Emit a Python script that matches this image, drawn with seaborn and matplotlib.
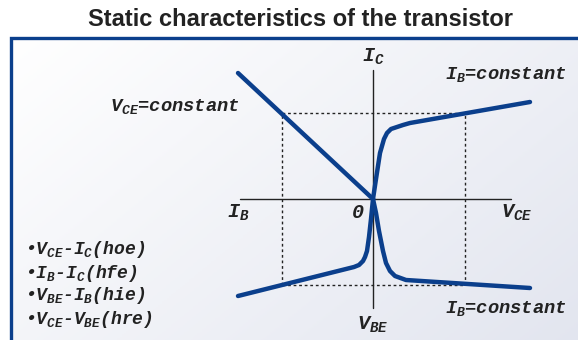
import numpy as np
import matplotlib
matplotlib.use("Agg")
import matplotlib.pyplot as plt
import seaborn as sns

sns.set_style("white")
plt.rcParams['mathtext.fontset'] = 'custom'
plt.rcParams['mathtext.it'] = 'Liberation Mono:italic:bold'
plt.rcParams['mathtext.rm'] = 'Liberation Mono:italic:bold'

# schematic curves (arbitrary units, origin at 0,0)
# hfe: IB - IC  (second quadrant)
hfe_x = [-1.35, 0.0]
hfe_y = [1.26, 0.0]
# hoe: VCE - IC  (first quadrant)
hoe_x = [0.0, 0.03, 0.07, 0.11, 0.14, 0.18, 0.24, 0.30, 0.37, 1.57]
hoe_y = [0.0, 0.20, 0.46, 0.60, 0.66, 0.70, 0.72, 0.74, 0.76, 0.97]
# hie: VBE - IB  (third quadrant)
hie_x = [0.0, -0.02, -0.04, -0.06, -0.08, -0.10, -0.14, -0.19, -1.35]
hie_y = [0.0, -0.20, -0.38, -0.52, -0.58, -0.62, -0.66, -0.68, -0.97]
# hre: VCE - VBE  (fourth quadrant)
hre_x = [0.0, 0.03, 0.06, 0.10, 0.13, 0.17, 0.22, 0.33, 1.57]
hre_y = [0.0, -0.14, -0.32, -0.52, -0.64, -0.72, -0.77, -0.81, -0.89]

# operating point (dotted guides)
op_x = [-0.91, 0.92]
op_y = [-0.86, 0.86]

title = "Static characteristics of the transistor"
params = [r"•$V_{CE}$-$I_{C}$(hoe)", r"•$I_{B}$-$I_{C}$(hfe)",
          r"•$V_{BE}$-$I_{B}$(hie)", r"•$V_{CE}$-$V_{BE}$(hre)"]

blue = "#0b3f8c"
mono = dict(family="Liberation Mono", style="italic", weight="bold", color="#222222")

fig = plt.figure(figsize=(5.78, 3.40), dpi=100)
ax = fig.add_axes([0, 0, 1, 1])
ax.set_xlim(-3.73, 2.05)
ax.set_ylim(-1.41, 1.99)
ax.axis("off")

# background panel with soft gradient
grad = np.linspace(0, 1, 256)
gx, gy = np.meshgrid(grad, grad)
g = 0.6 * gx + 0.4 * (1 - gy)
ax.imshow(g, extent=[-3.63, 2.1, -1.5, 1.63], cmap=sns.blend_palette(["#ffffff", "#e2e5ef"], as_cmap=True),
          aspect="auto", zorder=0, origin="lower", vmin=0, vmax=1)
ax.plot([-3.615, -3.615, 2.1], [-1.5, 1.615, 1.615], color=blue, lw=2.4, zorder=1,
        solid_joinstyle="miter")

# axes of the chart
ax.plot([-1.33, 1.38], [0, 0], color="#222222", lw=1.0, zorder=2)
ax.plot([0, 0], [-1.09, 1.29], color="#222222", lw=1.0, zorder=2)

# dotted guides
dot = dict(color="#222222", lw=1.0, ls=(0, (2, 2)), zorder=2)
ax.plot([op_x[0], op_x[1]], [op_y[1], op_y[1]], **dot)
ax.plot([op_x[0], op_x[1]], [op_y[0], op_y[0]], **dot)
ax.plot([op_x[0], op_x[0]], [op_y[0], op_y[1]], **dot)
ax.plot([op_x[1], op_x[1]], [op_y[0], op_y[1]], **dot)

for xs, ys in [(hfe_x, hfe_y), (hoe_x, hoe_y), (hie_x, hie_y), (hre_x, hre_y)]:
    sns.lineplot(x=xs, y=ys, ax=ax, color=blue, lw=3.2, sort=False, estimator=None,
                 solid_capstyle="round", solid_joinstyle="round", zorder=3)

fs = 13.5
ax.text(0, 1.42, r"$I_{C}$", ha="center", va="center", fontsize=fs + 1, **mono)
ax.text(0, -1.26, r"$V_{BE}$", ha="center", va="center", fontsize=fs + 1, **mono)
ax.text(-1.35, -0.14, r"$I_{B}$", ha="center", va="center", fontsize=fs + 1, **mono)
ax.text(1.44, -0.14, r"$V_{CE}$", ha="center", va="center", fontsize=fs + 1, **mono)
ax.text(-0.15, -0.14, "0", ha="center", va="center", fontsize=fs + 1, **mono)
ax.text(1.33, 1.24, r"$I_{B}$=constant", ha="center", va="center", fontsize=fs, **mono)
ax.text(1.33, -1.10, r"$I_{B}$=constant", ha="center", va="center", fontsize=fs, **mono)
ax.text(-1.98, 0.93, r"$V_{CE}$=constant", ha="center", va="center", fontsize=fs, **mono)

for i, p in enumerate(params):
    ax.text(-3.48, -0.51 - 0.23 * i, p, ha="left", va="center", fontsize=13, **mono)

fig.text(300 / 578, 1 - 20 / 340, title, ha="center", va="center", fontsize=17,
         family="Liberation Sans", weight="bold", color="#222222")

fig.savefig("out.png", dpi=100)
